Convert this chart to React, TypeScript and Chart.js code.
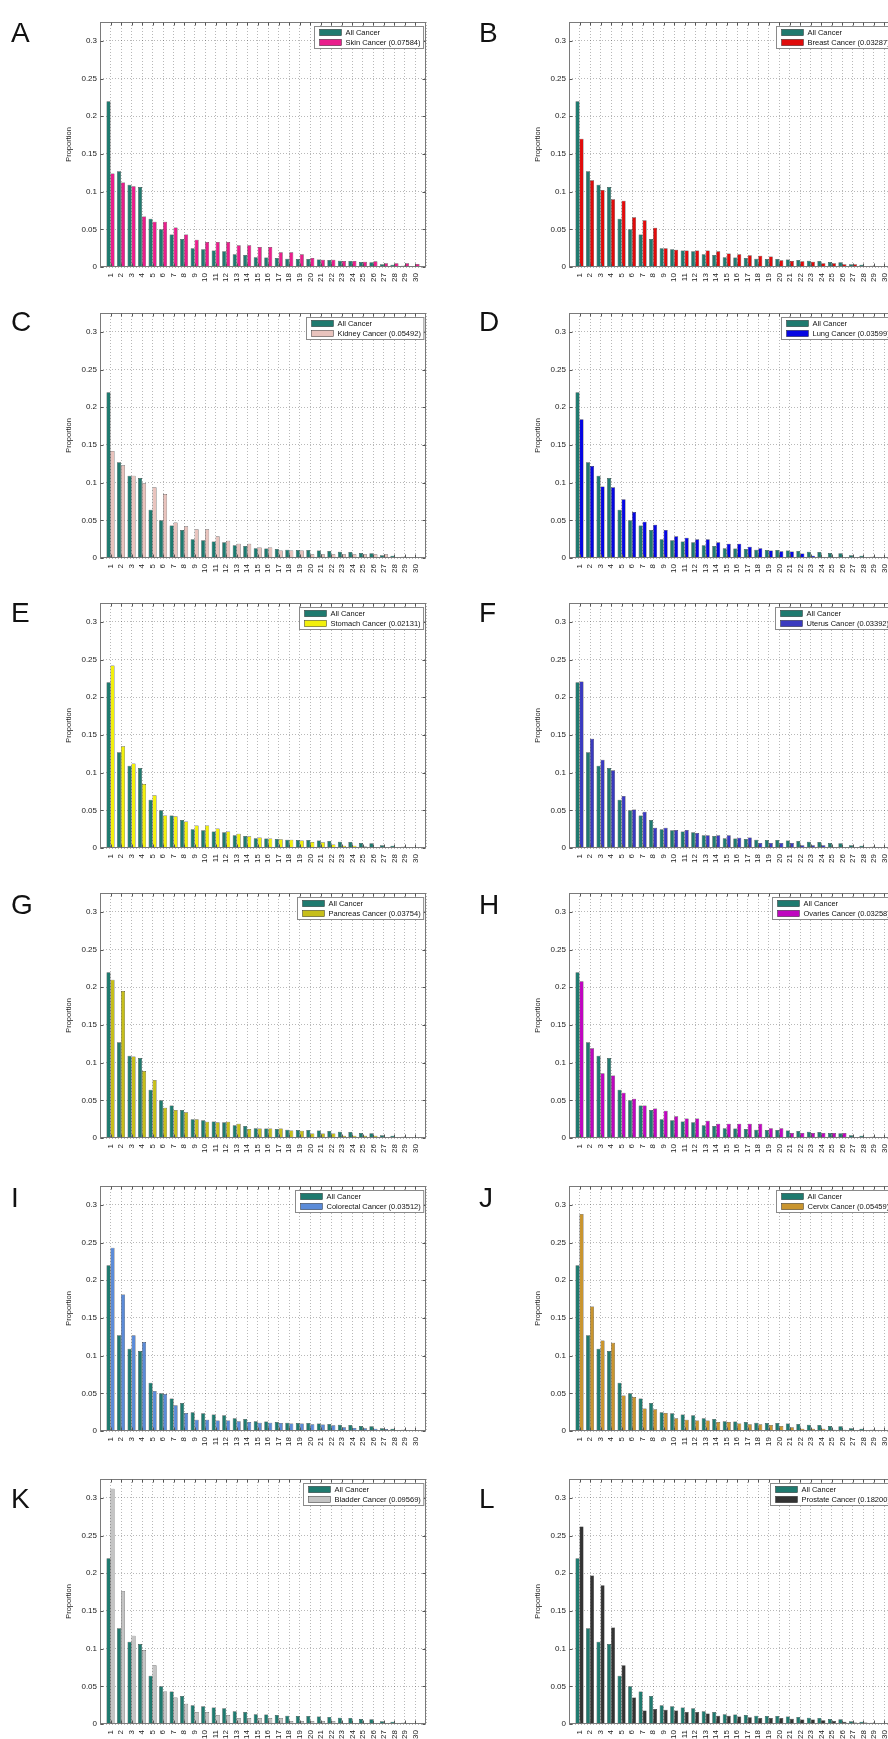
import React, { useEffect, useRef } from 'react';
import { Chart, registerables } from 'chart.js';

Chart.register(...registerables);
Chart.defaults.font.family = '"Liberation Sans", Arial, Helvetica, sans-serif';
Chart.defaults.color = '#222';

// ---------- data ----------
const ranks = [1, 2, 3, 4, 5, 6, 7, 8, 9, 10, 11, 12, 13, 14, 15, 16, 17, 18, 19, 20, 21, 22, 23, 24, 25, 26, 27, 28, 29, 30];

const allCancer = [0.220, 0.127, 0.109, 0.106, 0.064, 0.050, 0.043, 0.037, 0.025, 0.0235, 0.022, 0.021, 0.017, 0.016, 0.013, 0.0125, 0.012, 0.011, 0.0105, 0.0105, 0.0098, 0.0093, 0.0084, 0.008, 0.0066, 0.0062, 0.0035, 0.003, 0.0018, 0.0013];

const skin = [0.124, 0.112, 0.107, 0.067, 0.060, 0.060, 0.0525, 0.043, 0.036, 0.033, 0.033, 0.033, 0.029, 0.029, 0.0265, 0.0265, 0.0195, 0.0195, 0.017, 0.012, 0.0097, 0.0097, 0.008, 0.008, 0.007, 0.0075, 0.005, 0.005, 0.005, 0.004];
const breast = [0.170, 0.115, 0.102, 0.090, 0.088, 0.066, 0.062, 0.052, 0.025, 0.023, 0.022, 0.022, 0.022, 0.021, 0.018, 0.017, 0.0155, 0.015, 0.014, 0.009, 0.008, 0.0075, 0.007, 0.005, 0.005, 0.0035, 0.0035, 0.0005, 0.0003, 0.0002];
const kidney = [0.142, 0.123, 0.109, 0.099, 0.094, 0.085, 0.047, 0.042, 0.038, 0.038, 0.029, 0.023, 0.019, 0.019, 0.014, 0.014, 0.010, 0.010, 0.010, 0.005, 0.005, 0.005, 0.005, 0.005, 0.005, 0.005, 0.005, 0, 0, 0];
const lung = [0.184, 0.122, 0.095, 0.094, 0.078, 0.061, 0.048, 0.044, 0.037, 0.029, 0.027, 0.025, 0.025, 0.021, 0.019, 0.019, 0.015, 0.013, 0.010, 0.009, 0.0085, 0.006, 0.003, 0.0013, 0.001, 0.001, 0.001, 0.0005, 0.0002, 0.0002];
const stomach = [0.242, 0.135, 0.112, 0.085, 0.070, 0.043, 0.042, 0.035, 0.030, 0.030, 0.026, 0.022, 0.019, 0.0155, 0.014, 0.0125, 0.0115, 0.011, 0.0098, 0.008, 0.0075, 0.0045, 0.003, 0.003, 0.002, 0.001, 0.001, 0.001, 0.0002, 0.0001];
const uterus = [0.221, 0.145, 0.117, 0.103, 0.069, 0.051, 0.048, 0.027, 0.027, 0.024, 0.024, 0.020, 0.017, 0.017, 0.017, 0.0135, 0.014, 0.0065, 0.0065, 0.0065, 0.0065, 0.0035, 0.0035, 0.0035, 0, 0, 0, 0, 0, 0];
const pancreas = [0.210, 0.195, 0.108, 0.089, 0.077, 0.040, 0.037, 0.034, 0.025, 0.0215, 0.021, 0.0215, 0.019, 0.012, 0.0125, 0.0125, 0.0125, 0.010, 0.0095, 0.006, 0.006, 0.006, 0.003, 0.003, 0.003, 0.003, 0, 0, 0, 0];
const ovaries = [0.208, 0.119, 0.086, 0.083, 0.060, 0.052, 0.043, 0.039, 0.036, 0.029, 0.026, 0.026, 0.023, 0.019, 0.019, 0.019, 0.019, 0.019, 0.013, 0.013, 0.0065, 0.0065, 0.0065, 0.0065, 0.0065, 0.0065, 0, 0, 0, 0];
const colorectal = [0.243, 0.181, 0.127, 0.118, 0.053, 0.049, 0.034, 0.024, 0.015, 0.015, 0.014, 0.014, 0.013, 0.012, 0.011, 0.011, 0.0105, 0.010, 0.010, 0.009, 0.0085, 0.0075, 0.005, 0.004, 0.0035, 0.003, 0.0025, 0.0013, 0.0013, 0];
const cervix = [0.288, 0.165, 0.120, 0.117, 0.047, 0.045, 0.030, 0.029, 0.024, 0.017, 0.015, 0.014, 0.014, 0.012, 0.012, 0.010, 0.009, 0.009, 0.008, 0.0065, 0.005, 0.003, 0.003, 0.003, 0.0015, 0.0015, 0, 0, 0, 0];
const bladder = [0.312, 0.176, 0.117, 0.098, 0.078, 0.043, 0.035, 0.027, 0.016, 0.016, 0.012, 0.012, 0.008, 0.008, 0.008, 0.008, 0.008, 0.004, 0.004, 0.004, 0.004, 0.004, 0, 0, 0, 0, 0, 0, 0, 0];
const prostate = [0.262, 0.197, 0.184, 0.128, 0.078, 0.035, 0.018, 0.020, 0.019, 0.018, 0.016, 0.016, 0.014, 0.011, 0.011, 0.010, 0.009, 0.008, 0.008, 0.008, 0.007, 0.006, 0.006, 0.005, 0.004, 0.003, 0.002, 0.002, 0.001, 0.001];

const yTicks = [0, 0.05, 0.1, 0.15, 0.2, 0.25, 0.3];
const allLabel = 'All Cancer';
const yTitle = 'Proportion';

// ---------- panel layout ----------
const TEAL = '#1f7a6f';
const panels = [
  { letter: 'A', label: 'Skin Cancer (0.07584)', color: '#e91e8c', data: skin, col: 0, row: 0, capTop: 23 },
  { letter: 'B', label: 'Breast Cancer (0.03287)', color: '#e00b0b', data: breast, col: 1, row: 0, capTop: 23 },
  { letter: 'C', label: 'Kidney Cancer (0.05492)', color: '#e9c3bd', data: kidney, col: 0, row: 1, capTop: 312 },
  { letter: 'D', label: 'Lung Cancer (0.03599)', color: '#0606e2', data: lung, col: 1, row: 1, capTop: 312 },
  { letter: 'E', label: 'Stomach Cancer (0.02131)', color: '#f2f00c', data: stomach, col: 0, row: 2, capTop: 603 },
  { letter: 'F', label: 'Uterus Cancer (0.03392)', color: '#3a3abf', data: uterus, col: 1, row: 2, capTop: 603 },
  { letter: 'G', label: 'Pancreas Cancer (0.03754)', color: '#c6be1a', data: pancreas, col: 0, row: 3, capTop: 895 },
  { letter: 'H', label: 'Ovaries Cancer (0.03258)', color: '#bf06bf', data: ovaries, col: 1, row: 3, capTop: 895 },
  { letter: 'I', label: 'Colorectal Cancer (0.03512)', color: '#5b8bd8', data: colorectal, col: 0, row: 4, capTop: 1188 },
  { letter: 'J', label: 'Cervix Cancer (0.05459)', color: '#c9952f', data: cervix, col: 1, row: 4, capTop: 1188 },
  { letter: 'K', label: 'Bladder Cancer (0.09569)', color: '#c4c4c4', data: bladder, col: 0, row: 5, capTop: 1489 },
  { letter: 'L', label: 'Prostate Cancer (0.18200)', color: '#333333', data: prostate, col: 1, row: 5, capTop: 1489 },
];

const COL_LEFT = [0, 469];
const ROW_TOP = [0, 291, 581, 871, 1164, 1457];
const CW = 444;
const CH = 290;

const FONT = '"Liberation Sans", Arial, Helvetica, sans-serif';

const framePlugin = {
  id: 'matlabFrame',
  afterDatasetsDraw(chart: any) {
    const { ctx, chartArea: a, scales } = chart;
    const xs = scales.x;
    const ys = scales.y;
    ctx.save();
    ctx.lineWidth = 1;
    ctx.strokeStyle = '#7a7a7a';
    const L = Math.round(a.left) + 0.5;
    const R = Math.round(a.right) - 0.5;
    const T = Math.round(a.top) + 0.5;
    const B = Math.round(a.bottom) - 0.5;
    ctx.strokeRect(L, T, R - L, B - T);
    ctx.strokeStyle = '#555';
    ctx.beginPath();
    ranks.forEach((r) => {
      const px = Math.round(xs.getPixelForValue(r)) + 0.5;
      ctx.moveTo(px, B);
      ctx.lineTo(px, B - 3);
      ctx.moveTo(px, T);
      ctx.lineTo(px, T + 3);
    });
    yTicks.forEach((v) => {
      const py = Math.round(ys.getPixelForValue(v)) + 0.5;
      ctx.moveTo(L, py);
      ctx.lineTo(L + 3, py);
      ctx.moveTo(R, py);
      ctx.lineTo(R - 3, py);
    });
    ctx.stroke();
    ctx.restore();
  },
};

const legendPlugin = {
  id: 'panelLegend',
  afterDraw(chart: any) {
    const { ctx, chartArea: a } = chart;
    const ds = chart.data.datasets;
    ctx.save();
    ctx.font = `7.5px ${FONT}`;
    const textW = Math.max(...ds.map((d: any) => ctx.measureText(d.label).width));
    const boxW = 31 + textW + 3;
    const boxH = 22;
    const x0 = Math.round(a.right - 3 - boxW) + 0.5;
    const y0 = Math.round(a.top + 4) + 0.5;
    ctx.fillStyle = '#fff';
    ctx.fillRect(x0, y0, boxW, boxH);
    ctx.strokeStyle = '#8a8a8a';
    ctx.lineWidth = 1;
    ctx.strokeRect(x0, y0, boxW, boxH);
    ds.forEach((d: any, i: number) => {
      const cy = y0 + 6 + i * 10;
      ctx.fillStyle = d.backgroundColor;
      ctx.fillRect(x0 + 5, cy - 3.2, 22, 6.4);
      ctx.strokeStyle = '#333';
      ctx.lineWidth = 0.5;
      ctx.strokeRect(x0 + 5, cy - 3.2, 22, 6.4);
      ctx.fillStyle = '#111';
      ctx.textBaseline = 'middle';
      ctx.textAlign = 'left';
      ctx.fillText(d.label, x0 + 31, cy + 0.5);
    });
    ctx.restore();
  },
};

function Panel({ p }: { p: any }) {
  const ref = useRef<HTMLCanvasElement | null>(null);
  useEffect(() => {
    const canvas = ref.current;
    if (!canvas) return;
    const barStyle = { borderColor: '#1b1b1b', borderWidth: 0.5, borderSkipped: 'start', categoryPercentage: 0.76, barPercentage: 1.0 };
    const chart = new Chart(canvas, {
      type: 'bar',
      data: {
        datasets: [
          { label: allLabel, data: ranks.map((r, i) => ({ x: r, y: allCancer[i] })), backgroundColor: TEAL, ...barStyle } as any,
          { label: p.label, data: ranks.map((r, i) => ({ x: r, y: p.data[i] })), backgroundColor: p.color, ...barStyle } as any,
        ],
      },
      options: {
        animation: false,
        responsive: false,
        devicePixelRatio: 1,
        layout: { padding: { left: 60, top: 22, right: 18, bottom: 3 } },
        plugins: { legend: { display: false }, tooltip: { enabled: false } },
        scales: {
          x: {
            type: 'linear',
            min: 0,
            max: 31,
            offset: false,
            bounds: 'data',
            ticks: {
              stepSize: 1,
              maxTicksLimit: 40,
              autoSkip: false,
              includeBounds: false,
              minRotation: 90,
              maxRotation: 90,
              padding: 6,
              font: { size: 8 },
              color: '#222',
              callback: (v: any) => {
                const i = ranks.indexOf(Number(v));
                return i >= 0 ? String(ranks[i]) : '';
              },
            },
            grid: { color: 'rgba(0,0,0,0.28)', lineWidth: 1, drawTicks: false, offset: false },
            border: { display: false, dash: [1, 2] },
            afterFit: (s: any) => { s.height = 20; },
          },
          y: {
            type: 'linear',
            min: 0,
            max: 0.325,
            bounds: 'data',
            ticks: {
              stepSize: 0.05,
              maxTicksLimit: 12,
              includeBounds: false,
              padding: 3,
              font: { size: 8 },
              color: '#222',
              callback: (v: any) => String(Number(Number(v).toFixed(2))),
            },
            grid: { color: 'rgba(0,0,0,0.28)', lineWidth: 1, drawTicks: false },
            border: { display: false, dash: [1, 2] },
            title: { display: true, text: yTitle, font: { size: 7.5 }, color: '#222', padding: { top: 4, bottom: 4 } },
            afterFit: (s: any) => { s.width = 40; },
          },
        },
      } as any,
      plugins: [framePlugin, legendPlugin],
    });
    return () => chart.destroy();
  }, [p]);
  return (
    <canvas
      ref={ref}
      width={CW}
      height={CH}
      style={{ position: 'absolute', left: COL_LEFT[p.col], top: ROW_TOP[p.row], width: CW, height: CH }}
    />
  );
}

export default function App() {
  return (
    <div style={{ position: 'fixed', left: 0, top: 0, width: 888, height: 1739, overflow: 'hidden', background: '#fff' }}>
      {panels.map((p) => (
        <Panel key={p.letter} p={p} />
      ))}
      {panels.map((p) => (
        <div
          key={'l' + p.letter}
          style={{
            position: 'absolute',
            left: p.col === 0 ? 11 : 479,
            top: p.capTop - 3.6,
            fontFamily: FONT,
            fontSize: 28,
            lineHeight: '28px',
            color: '#111',
          }}
        >
          {p.letter}
        </div>
      ))}
    </div>
  );
}
